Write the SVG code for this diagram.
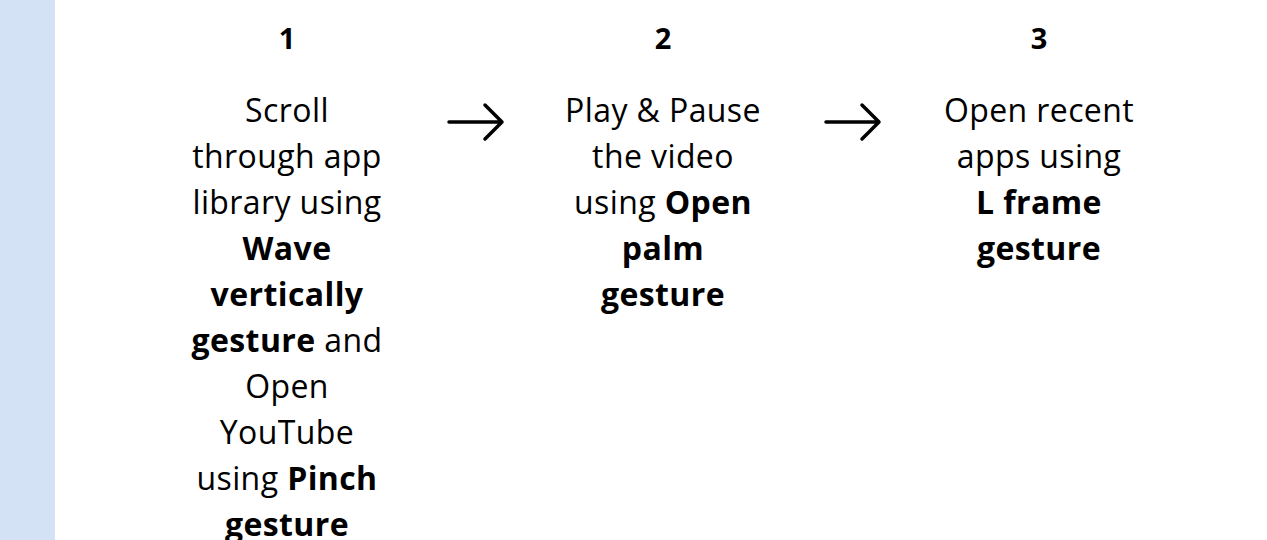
<svg xmlns="http://www.w3.org/2000/svg" width="1267" height="540" viewBox="0 0 1267 540">
<style>
text{font-family:"Open Sans","Noto Sans",sans-serif;font-size:32px;letter-spacing:0.4px;fill:#000;text-anchor:middle}
.b{font-weight:700}
.n{font-weight:700;font-size:29px;letter-spacing:0}
.arr{fill:none;stroke:#000;stroke-width:3.5;stroke-linecap:round;stroke-linejoin:round}
</style>
<rect x="0" y="0" width="1267" height="540" fill="#fff"/>
<rect x="0" y="0" width="55" height="540" fill="#d3e2f5"/>
<g id="step1">
<text class="n" x="287" y="49">1</text>
<text x="287" y="122">Scroll</text>
<text x="287" y="168">through app</text>
<text x="287" y="214">library using</text>
<text x="287" y="260" class="b">Wave</text>
<text x="287" y="306" class="b">vertically</text>
<text x="287" y="352"><tspan class="b">gesture</tspan> and</text>
<text x="287" y="398">Open</text>
<text x="287" y="444">YouTube</text>
<text x="287" y="490">using <tspan class="b">Pinch</tspan></text>
<text x="287" y="536" class="b">gesture</text>
</g>
<g id="step2">
<text class="n" x="663" y="49">2</text>
<text x="663" y="122">Play &amp; Pause</text>
<text x="663" y="168">the video</text>
<text x="663" y="214">using <tspan class="b">Open</tspan></text>
<text x="663" y="260" class="b">palm</text>
<text x="663" y="306" class="b">gesture</text>
</g>
<g id="step3">
<text class="n" x="1039" y="49">3</text>
<text x="1039" y="122">Open recent</text>
<text x="1039" y="168">apps using</text>
<text x="1039" y="214" class="b">L frame</text>
<text x="1039" y="260" class="b">gesture</text>
</g>
<g id="connectors">
<path class="arr" d="M449 122 H502 M485 105 L502 122 L485 139"/>
<path class="arr" d="M826 122 H879 M862 105 L879 122 L862 139"/>
</g>
</svg>
